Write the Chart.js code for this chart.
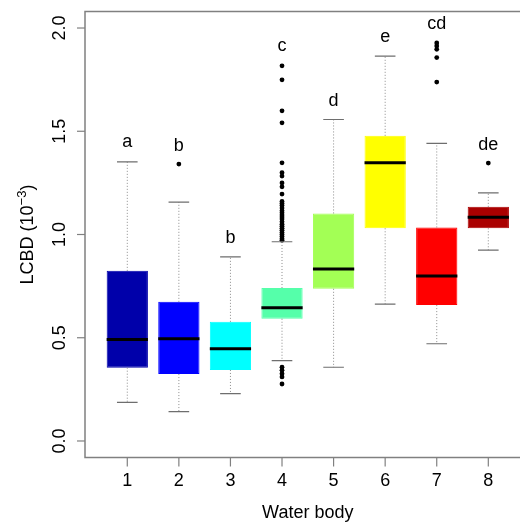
<!DOCTYPE html>
<html>
<head>
<meta charset="utf-8">
<script src="https://cdn.jsdelivr.net/npm/chart.js@4.4.0/dist/chart.umd.min.js"></script>
<style>
    html, body { margin: 0; padding: 0; background: #fff; }
    #wrap { width: 520px; height: 522px; overflow: hidden; }
    canvas { display: block; }
</style>
</head>
<body>
<div id="wrap"><canvas id="lcbdChart" width="540" height="522"></canvas></div>
<script>
// Data (LCBD x 10^-3 per water body)
const waterBodies = ['1', '2', '3', '4', '5', '6', '7', '8'];
const whiskerLow = [0.187, 0.142, 0.229, 0.389, 0.357, 0.663, 0.471, 0.924];
const lowerQuartile = [0.355, 0.324, 0.344, 0.592, 0.737, 1.030, 0.658, 1.030];
const medians = [0.492, 0.495, 0.447, 0.645, 0.833, 1.347, 0.799, 1.084];
const upperQuartile = [0.824, 0.674, 0.577, 0.741, 1.102, 1.478, 1.034, 1.134];
const whiskerHigh = [1.352, 1.157, 0.892, 0.965, 1.557, 1.864, 1.441, 1.202];
const outliers = [
    [],
    [1.341],
    [],
    [1.817, 1.749, 1.599, 1.541, 1.347, 1.299, 1.283, 1.250, 1.231, 1.196,
     1.160, 1.150, 1.140, 1.128, 1.115, 1.105, 1.095, 1.085, 1.075, 1.062,
     1.050, 1.040, 1.030, 1.020, 1.010, 1.000, 0.990, 0.980, 0.972,
     0.357, 0.342, 0.326, 0.310, 0.276],
    [],
    [],
    [1.928, 1.913, 1.897, 1.857, 1.738],
    [1.346]
];
const groupLetters = ['a', 'b', 'b', 'c', 'd', 'e', 'cd', 'de'];
const letterHeights = [1.425, 1.406, 0.960, 1.890, 1.622, 1.934, 1.994, 1.409];
const yTicks = [0, 0.5, 1.0, 1.5, 2.0];
const yTickLabels = ['0.0', '0.5', '1.0', '1.5', '2.0'];

const boxColors = ['#0000AA', '#0000FF', '#00FFFF', '#55FFAA', '#A3FF55', '#FFFF00', '#FF0000', '#AA0000'];
const FONT = '"Liberation Sans", Arial, Helvetica, sans-serif';
const FONT_SIZE = 18;

// whiskers, medians, letters, frame and axes in R style
const boxplotExtras = {
    id: 'boxplotExtras',
    afterDatasetsDraw(chart) {
        const ctx = chart.ctx;
        const x = chart.scales.x;
        const y = chart.scales.y;
        const area = chart.chartArea;
        const unit = x.getPixelForValue(1) - x.getPixelForValue(0);
        const boxHalf = unit * 0.4;
        const capHalf = unit * 0.2;
        const mainFont = FONT_SIZE + 'px ' + FONT;

        ctx.save();
        waterBodies.forEach((w, i) => {
            const cx = x.getPixelForValue(i + 1);

            // dotted whiskers
            ctx.strokeStyle = '#8c8c8c';
            ctx.lineWidth = 1;
            ctx.setLineDash([1, 2]);
            ctx.beginPath();
            ctx.moveTo(cx, y.getPixelForValue(upperQuartile[i]));
            ctx.lineTo(cx, y.getPixelForValue(whiskerHigh[i]));
            ctx.moveTo(cx, y.getPixelForValue(lowerQuartile[i]));
            ctx.lineTo(cx, y.getPixelForValue(whiskerLow[i]));
            ctx.stroke();

            // staples
            ctx.setLineDash([]);
            ctx.strokeStyle = '#6e6e6e';
            ctx.lineWidth = 1.2;
            ctx.beginPath();
            [whiskerHigh[i], whiskerLow[i]].forEach(v => {
                const py = y.getPixelForValue(v);
                ctx.moveTo(cx - capHalf, py);
                ctx.lineTo(cx + capHalf, py);
            });
            ctx.stroke();

            // median
            ctx.strokeStyle = '#000';
            ctx.lineWidth = 3;
            ctx.beginPath();
            const my = y.getPixelForValue(medians[i]);
            ctx.moveTo(cx - boxHalf, my);
            ctx.lineTo(cx + boxHalf, my);
            ctx.stroke();

            // significance letters
            ctx.fillStyle = '#000';
            ctx.font = mainFont;
            ctx.textAlign = 'center';
            ctx.textBaseline = 'alphabetic';
            ctx.fillText(groupLetters[i], cx, y.getPixelForValue(letterHeights[i]));
        });

        // frame
        ctx.strokeStyle = '#808080';
        ctx.lineWidth = 1.5;
        ctx.strokeRect(area.left, area.top, area.right - area.left, area.bottom - area.top);

        // y axis ticks + rotated labels
        ctx.lineWidth = 1.2;
        ctx.fillStyle = '#000';
        ctx.font = mainFont;
        yTicks.forEach((t, k) => {
            const py = y.getPixelForValue(t);
            ctx.beginPath();
            ctx.moveTo(area.left, py);
            ctx.lineTo(area.left - 8, py);
            ctx.stroke();
            ctx.save();
            ctx.translate(area.left - 20, py);
            ctx.rotate(-Math.PI / 2);
            ctx.textAlign = 'center';
            ctx.fillText(yTickLabels[k], 0, 0);
            ctx.restore();
        });

        // x axis ticks + labels
        waterBodies.forEach((w, i) => {
            const px = x.getPixelForValue(i + 1);
            ctx.beginPath();
            ctx.moveTo(px, area.bottom);
            ctx.lineTo(px, area.bottom + 9);
            ctx.stroke();
            ctx.textAlign = 'center';
            ctx.fillText(w, px, 486);
        });

        // axis titles
        ctx.textAlign = 'center';
        ctx.fillText('Water body', (area.left + area.right) / 2, 518);

        ctx.save();
        ctx.translate(33, (area.top + area.bottom) / 2);
        ctx.rotate(-Math.PI / 2);
        ctx.textAlign = 'left';
        const partA = 'LCBD (10';
        const partB = '\u22123';
        const partC = ')';
        const supFont = Math.round(FONT_SIZE * 0.7) + 'px ' + FONT;
        ctx.font = mainFont;
        const wA = ctx.measureText(partA).width;
        const wC = ctx.measureText(partC).width;
        ctx.font = supFont;
        const wB = ctx.measureText(partB).width;
        const start = -(wA + wB + wC) / 2;
        ctx.font = mainFont;
        ctx.fillText(partA, start, 0);
        ctx.font = supFont;
        ctx.fillText(partB, start + wA, -7);
        ctx.font = mainFont;
        ctx.fillText(partC, start + wA + wB, 0);
        ctx.restore();

        ctx.restore();
    }
};

const outlierPoints = [];
outliers.forEach((list, i) => {
    list.forEach(v => outlierPoints.push({ x: i + 1, y: v }));
});

const lcbdCtx = document.getElementById('lcbdChart').getContext('2d');
const lcbdChart = new Chart(lcbdCtx, {
    type: 'bar',
    data: {
        datasets: [{
            label: 'IQR',
            data: waterBodies.map((w, i) => ({ x: i + 1, y: [lowerQuartile[i], upperQuartile[i]] })),
            backgroundColor: boxColors,
            borderColor: boxColors,
            borderWidth: 1,
            borderSkipped: false,
            barPercentage: 0.8,
            categoryPercentage: 1,
            grouped: false
        }, {
            type: 'scatter',
            label: 'Outliers',
            data: outlierPoints,
            backgroundColor: '#000',
            borderColor: '#000',
            pointRadius: 2.4,
            borderWidth: 0
        }]
    },
    options: {
        responsive: false,
        animation: false,
        layout: {
            padding: { left: 85, top: 11.5, right: 9.4, bottom: 64.5 }
        },
        plugins: {
            legend: { display: false },
            tooltip: { enabled: false }
        },
        scales: {
            x: {
                type: 'linear',
                min: 0.18,
                max: 8.82,
                offset: false,
                display: false,
                afterBuildTicks: scale => {
                    scale.ticks = waterBodies.map((w, i) => ({ value: i + 1 }));
                }
            },
            y: {
                min: -0.08,
                max: 2.08,
                display: false
            }
        }
    },
    plugins: [boxplotExtras]
});
</script>
</body>
</html>
